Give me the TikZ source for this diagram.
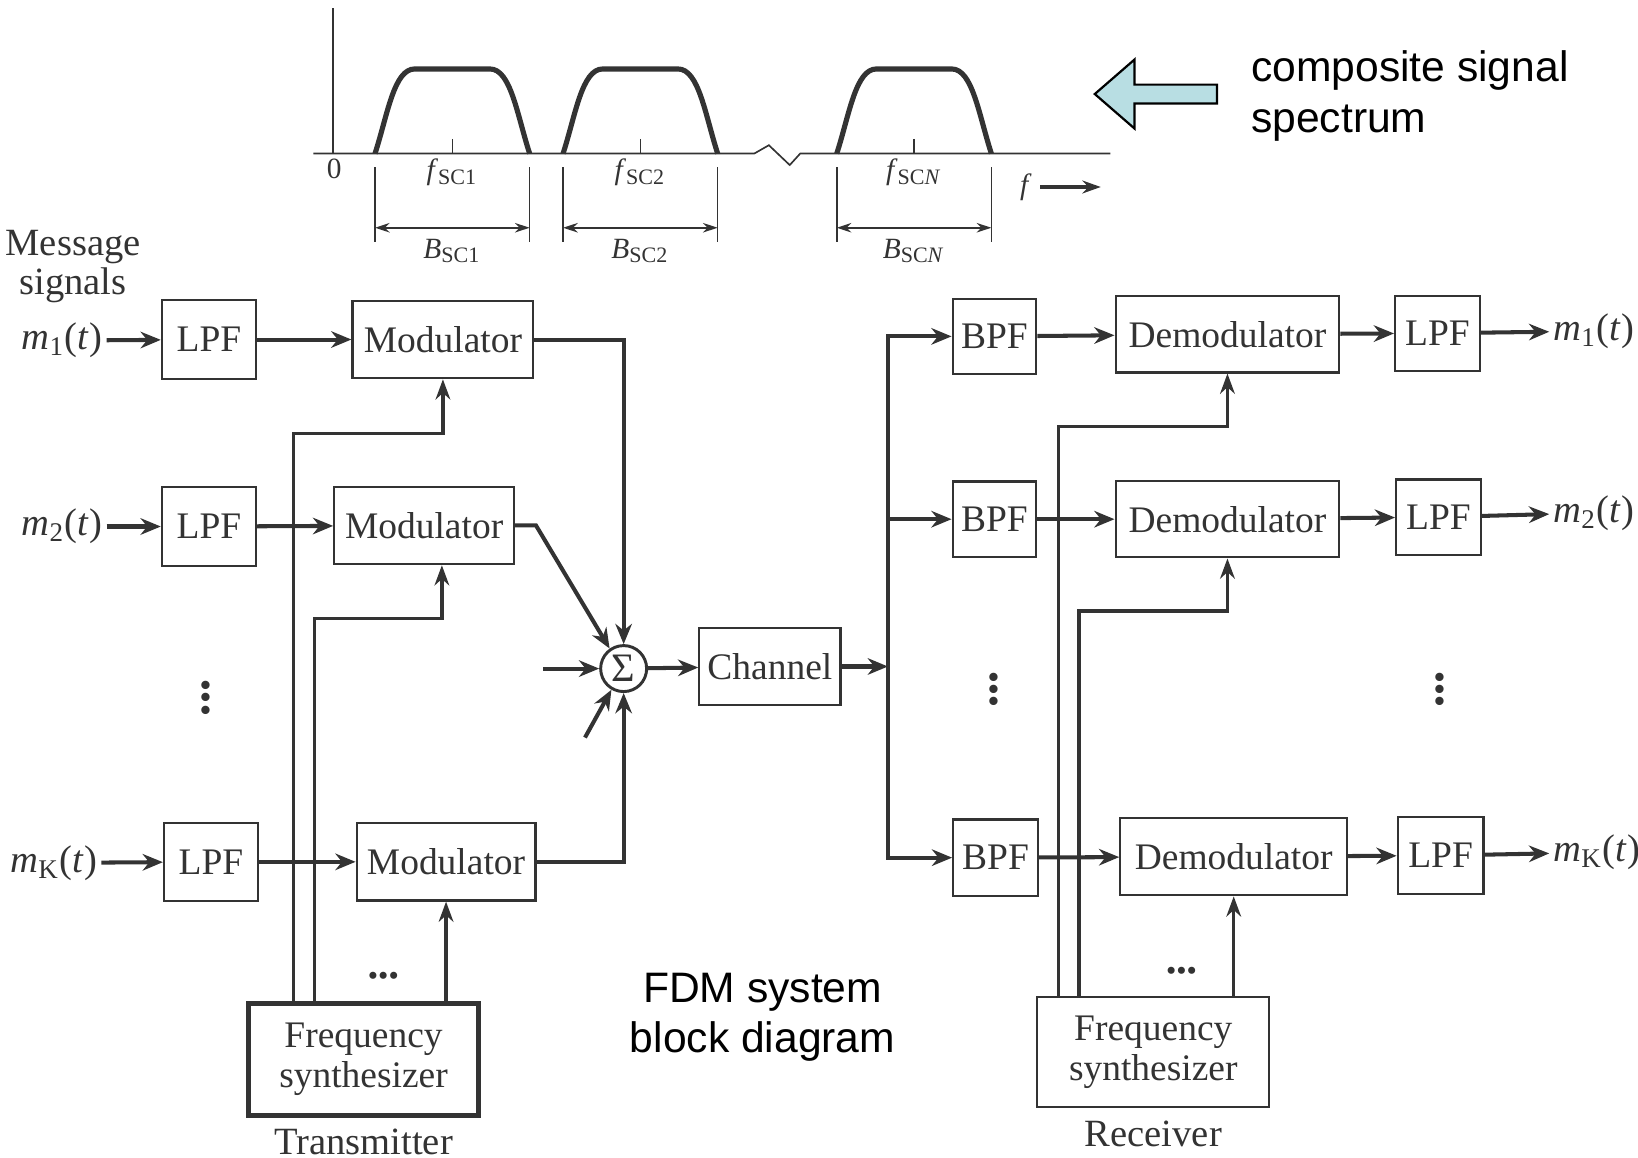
\documentclass[tikz,border=0pt]{standalone}
\usepackage{fontspec}
\setmainfont{Liberation Serif}
\newfontfamily\notefont{Liberation Sans}
\usetikzlibrary{arrows.meta,positioning}

\definecolor{ink}{gray}{0.2}
\definecolor{callout}{RGB}{184,222,227}

\newcommand{\msig}[1]{\textit{m}\textsubscript{#1}(\textit{t})}

\tikzset{
  block/.style={draw=ink, line width=0.6pt, text=ink, inner sep=0pt, minimum height=0.74cm, font=\fontsize{10.2}{10.8}\selectfont},
  synbox/.style={block, align=center, minimum width=2.2cm, minimum height=1.07cm},
  sumnode/.style={circle, draw=ink, line width=0.8pt, text=ink, inner sep=0pt, minimum size=0.44cm, font=\fontsize{11}{11}\selectfont},
  txt/.style={text=ink, inner sep=1pt, font=\fontsize{10.5}{10.8}\selectfont},
  small/.style={text=ink, inner sep=1pt, font=\fontsize{8}{8}\selectfont},
  vdotsnode/.style={text=ink, inner sep=0pt, rotate=90, font=\fontsize{9.5}{9.5}\selectfont},
  note/.style={text=black, inner sep=0pt, font=\notefont\fontsize{11.6}{13.7}\selectfont},
  sig/.style={draw=ink, line width=1.1pt, -{Stealth[length=5.5pt,width=4.5pt]}},
  feed/.style={draw=ink, line width=0.9pt, -{Stealth[length=5.5pt,width=4pt]}},
  spec/.style={draw=ink, line width=0.45pt},
  pulse/.style={draw=ink, line width=1.4pt}
}

\begin{document}
\begin{tikzpicture}[x=0.01cm, y=-0.01cm]
\useasboundingbox (0,0) rectangle (1568,1108);

% spectrum
\draw[spec] (319,8) -- (319,147);
\draw[spec] (300,147) -- (722,147) -- (736,139) -- (756,158) -- (766,147) -- (1063,147);
\node (zero) [small] at (320,162) {0};
\foreach \c/\n in {433/1, 613/2, 875/\textit{N}} {
  \draw[pulse] ({\c-74},147) .. controls ({\c-62},110) and ({\c-56},66) .. ({\c-36},66) -- ({\c+36},66) .. controls ({\c+56},66) and ({\c+62},110) .. ({\c+74},147);
  \draw[spec] (\c,133) -- (\c,147);
  \draw[spec] ({\c-74},160) -- ({\c-74},232);
  \draw[spec] ({\c+74},160) -- ({\c+74},232);
  \draw[spec, {Stealth[length=4pt,width=2.6pt]}-{Stealth[length=4pt,width=2.6pt]}] ({\c-74},218) -- ({\c+74},218);
  \node[small] at (\c,165) {\textit{f}\textsubscript{SC\n}};
  \node[small] at (\c,240) {\textit{B}\textsubscript{SC\n}};
}
\node (faxis) [small] at (982,179) {\textit{f}};
\draw[draw=ink, line width=0.9pt, -{Stealth[length=5pt,width=3.5pt]}] (faxis.east) ++(4,0) -- ++(58,0);

\draw[fill=callout, draw=black, line width=0.6pt] (1048,90) -- (1086,57) -- (1086,81) -- (1165,81) -- (1165,99) -- (1086,99) -- (1086,123) -- cycle;
\node (specnote) [note, anchor=west, align=left] at (1197,92) {composite signal\\spectrum};
\node (fdmnote) [note, align=center] at (730,974) {FDM system\\block diagram};

% transmitter
\node (msglab) [txt, align=center] at (70,255) {Message\\signals};
\node (inA) [txt, anchor=east] at (102,326) {\msig{1}};
\node (inB) [txt, anchor=east] at (102,504) {\msig{2}};
\node (inK) [txt, anchor=east] at (97,826) {\msig{K}};
\node (lpfA) [block, minimum width=0.9cm, minimum height=0.75cm] at (200,325) {LPF};
\node (lpfB) [block, minimum width=0.9cm, minimum height=0.75cm] at (200,504) {LPF};
\node (lpfK) [block, minimum width=0.9cm, minimum height=0.75cm] at (202,825) {LPF};
\node (modA) [block, minimum width=1.73cm] at (424,325) {Modulator};
\node (modB) [block, minimum width=1.72cm] at (406,503) {Modulator};
\node (modK) [block, minimum width=1.71cm] at (427,825) {Modulator};
\node (vdT) [vdotsnode] at (201,668) {•••};
\node (sum) [sumnode] at (597,640) {Σ};
\node (chan) [block, minimum width=1.35cm, minimum height=0.73cm] at (737,638) {Channel};
\node (synT) [synbox, line width=1.3pt] at (348,1014) {Frequency\\synthesizer};
\node (txlab) [txt] at (348,1093) {Transmitter};
\node (dotsT) [small] at (367,937) {•••};

\draw[sig] (inA) -- (lpfA);
\draw[sig] (inB) -- (lpfB);
\draw[sig] (inK) -- (lpfK);
\draw[sig] (lpfA) -- (modA);
\draw[sig] (lpfB) -- (modB);
\draw[sig] (lpfK) -- (modK);
\draw[sig] (modA.east) -| (sum.north);
\draw[sig] (modB.east) -- ++(20,0) -- (sum.125);
\draw[sig] (modK.east) -| (sum.south);
\coordinate (xin) at (520,640);
\coordinate (xdiag) at (560,706);
\draw[sig] (xin) -- (sum.west);
\draw[sig] (xdiag) -- (sum.240);
\draw[sig] (sum) -- (chan);

\coordinate (bendA) at (281,415);
\coordinate (bendB) at (301,592);
\coordinate (tipB) at (423,592);
\draw[feed] (bendA |- synT.north) -- (bendA) -| (modA.south);
\draw[feed] (bendB |- synT.north) -- (bendB) -- (tipB) -- (tipB |- modB.south);
\draw[feed] (synT.north -| modK.south) -- (modK.south);

% receiver
\coordinate (bus) at (850,638);
\node (bpfA) [block, minimum width=0.8cm, minimum height=0.72cm] at (952,322) {BPF};
\node (bpfB) [block, minimum width=0.8cm, minimum height=0.72cm] at (952,497) {BPF};
\node (bpfK) [block, minimum width=0.81cm, minimum height=0.73cm] at (953,821) {BPF};
\node (demA) [block, minimum width=2.14cm, minimum height=0.73cm] at (1175,320) {Demodulator};
\node (demB) [block, minimum width=2.14cm, minimum height=0.73cm] at (1175,497) {Demodulator};
\node (demK) [block, minimum width=2.17cm, minimum height=0.74cm] at (1181,820) {Demodulator};
\node (lpfRA) [block, minimum width=0.81cm, minimum height=0.72cm] at (1376,319) {LPF};
\node (lpfRB) [block, minimum width=0.81cm, minimum height=0.72cm] at (1377,495) {LPF};
\node (lpfRK) [block, minimum width=0.82cm, minimum height=0.74cm] at (1379,819) {LPF};
\node (outA) [txt, anchor=west] at (1483,317) {\msig{1}};
\node (outB) [txt, anchor=west] at (1483,491) {\msig{2}};
\node (outK) [txt, anchor=west] at (1483,816) {\msig{K}};
\node (vdRA) [vdotsnode] at (955,660) {•••};
\node (vdRB) [vdotsnode] at (1382,660) {•••};
\node (synR) [synbox, minimum width=2.22cm, minimum height=1.05cm] at (1104,1007) {Frequency\\synthesizer};
\node (rxlab) [txt] at (1104,1085) {Receiver};
\node (dotsR) [small] at (1131,932) {•••};

\draw[sig] (chan.east) -- (bus);
\draw[sig] (bus) |- (bpfA.west);
\draw[sig] (bus) |- (bpfK.west);
\draw[sig] (bpfB.west -| bus) -- (bpfB.west);
\draw[sig] (bpfA) -- (demA);
\draw[sig] (bpfB) -- (demB);
\draw[sig] (bpfK) -- (demK);
\draw[sig] (demA) -- (lpfRA);
\draw[sig] (demB) -- (lpfRB);
\draw[sig] (demK) -- (lpfRK);
\draw[sig] (lpfRA) -- (outA);
\draw[sig] (lpfRB) -- (outB);
\draw[sig] (lpfRK) -- (outK);

\coordinate (rbendA) at (1013,408);
\coordinate (rbendB) at (1033,585);
\draw[feed] (rbendA |- synR.north) -- (rbendA) -| (demA.south);
\draw[feed] (rbendB |- synR.north) -- (rbendB) -| (demB.south);
\draw[feed] (synR.north -| demK.south) -- (demK.south);
\end{tikzpicture}
\end{document}
